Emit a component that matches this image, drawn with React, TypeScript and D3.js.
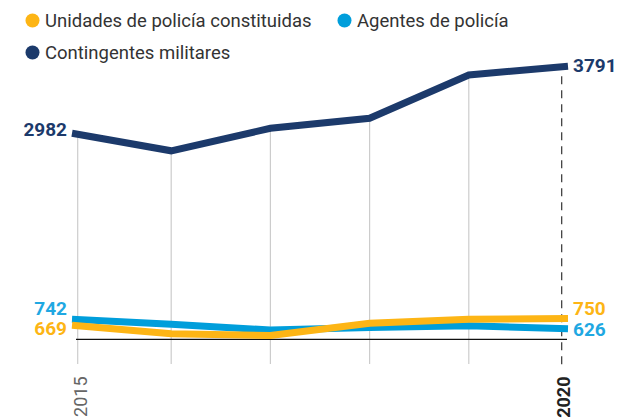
import React from "react";
import * as d3 from "d3";

const years = [2015, 2016, 2017, 2018, 2019, 2020];
const unidades = [669, 567, 546, 693, 742, 750];
const agentes = [742, 682, 612, 642, 663, 626];
const militares = [2982, 2771, 3042, 3163, 3684, 3791];

const legendLabels = ["Unidades de policía constituidas", "Agentes de policía", "Contingentes militares"];
const tickLabels = ["2015", "2020"];

const C_ORANGE = "#FDB515";
const C_BLUE = "#009EDB";
const C_BLUE_LABEL = "#1FA8E2";
const C_NAVY = "#1C3A6B";

const W = 617;
const H = 419;
const FONT = "Roboto, 'Noto Sans', sans-serif";

export default function App() {
  const x = d3.scaleLinear().domain([2015, 2020]).range([72, 568]);
  const y = d3.scaleLinear().domain([500, 4000]).range([339.3, 48.8]);
  const line = d3
    .line<number>()
    .x((_, i) => x(years[i]))
    .y((d) => y(d));

  const gridBottom = 364;
  const n = years.length;

  const series = [
    { values: agentes, color: C_BLUE },
    { values: unidades, color: C_ORANGE },
    { values: militares, color: C_NAVY },
  ];

  const endLabels = [
    { v: militares[0], side: "l", dy: 2.5, color: C_NAVY },
    { v: militares[n - 1], side: "r", dy: 5.6, color: C_NAVY },
    { v: agentes[0], side: "l", dy: -4.5, color: C_BLUE_LABEL },
    { v: unidades[0], side: "l", dy: 10, color: C_ORANGE },
    { v: unidades[n - 1], side: "r", dy: -3.5, color: C_ORANGE },
    { v: agentes[n - 1], side: "r", dy: 7, color: C_BLUE_LABEL },
  ];

  const legend = [
    { label: legendLabels[0], color: C_ORANGE, cx: 32.5, cy: 20.5 },
    { label: legendLabels[1], color: C_BLUE, cx: 344.5, cy: 20.5 },
    { label: legendLabels[2], color: C_NAVY, cx: 32.5, cy: 52.5 },
  ];

  return (
    <svg
      width={W}
      height={H}
      viewBox={`0 0 ${W} ${H}`}
      style={{ position: "absolute", left: 0, top: 0, display: "block", background: "#fff" }}
    >
      {/* gridlines */}
      {years.map((yr, i) => {
        if (i === n - 1) return null;
        const gx = i === 0 ? x(yr) + 5.7 : x(yr);
        return (
          <line
            key={yr}
            x1={gx}
            x2={gx}
            y1={y(militares[i])}
            y2={gridBottom}
            stroke="#cccccc"
            strokeWidth={1.2}
          />
        );
      })}
      <line
        x1={x(years[n - 1]) - 6.3}
        x2={x(years[n - 1]) - 6.3}
        y1={y(militares[n - 1]) + 10}
        y2={gridBottom + 1}
        stroke="#333"
        strokeWidth={1.2}
        strokeDasharray="8,6"
      />
      {/* baseline */}
      <line x1={76} x2={567} y1={y(500)} y2={y(500)} stroke="#111" strokeWidth={1.2} />

      {/* series */}
      {series.map((s, i) => (
        <path key={i} d={line(s.values) || ""} fill="none" stroke={s.color} strokeWidth={7} />
      ))}

      {/* end labels */}
      {endLabels.map((l, i) => (
        <text
          key={i}
          x={l.side === "l" ? x(years[0]) - 5 : x(years[n - 1]) + 5}
          y={y(l.v) + l.dy}
          textAnchor={l.side === "l" ? "end" : "start"}
          fill={l.color}
          fontFamily={FONT}
          fontWeight={700}
          fontSize={19}
        >
          {l.v}
        </text>
      ))}

      {/* x tick labels */}
      <text
        transform={`translate(${x(years[0]) + 14.5},376.5) rotate(-90)`}
        textAnchor="end"
        fill="#666"
        fontFamily={FONT}
        fontSize={18}
      >
        {tickLabels[0]}
      </text>
      <text
        transform={`translate(${x(years[n - 1]) + 2},376.5) rotate(-90)`}
        textAnchor="end"
        fill="#222"
        fontFamily={FONT}
        fontWeight={700}
        fontSize={18}
      >
        {tickLabels[1]}
      </text>

      {/* legend */}
      {legend.map((l, i) => (
        <g key={i}>
          <circle cx={l.cx} cy={l.cy} r={7} fill={l.color} />
          <text
            x={l.cx + 12.5}
            y={l.cy + 6.5}
            fill="#333"
            fontFamily={FONT}
            fontWeight={400}
            fontSize={18.5}
          >
            {l.label}
          </text>
        </g>
      ))}
    </svg>
  );
}
